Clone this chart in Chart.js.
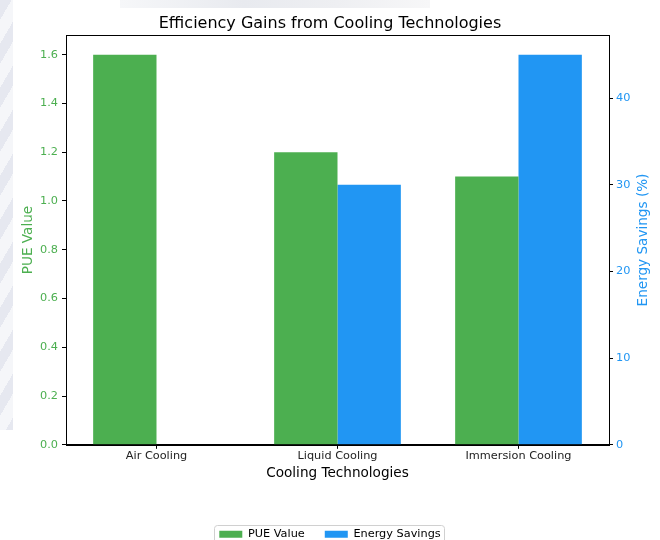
<!DOCTYPE html>
<html>
<head>
<meta charset="utf-8">
<script src="https://cdn.jsdelivr.net/npm/chart.js@4"></script>
<style>
  html, body { margin: 0; padding: 0; width: 660px; height: 540px; overflow: hidden; background: #fff; }
  .wm-left { position: absolute; left: 0; top: 0; width: 13px; height: 430px;
    background: repeating-linear-gradient(120deg, #e6e8f0 0 10px, #f5f6f9 10px 22px); }
  .wm-top { position: absolute; left: 120px; top: 0; width: 310px; height: 8px;
    background: linear-gradient(90deg, #f6f7f9, #e8eaef 40%, #eeeff2 70%, #f7f7f8); }
  #chart { position: absolute; left: 0; top: 0; }
</style>
</head>
<body>
<div class="wm-left"></div>
<div class="wm-top"></div>
<canvas id="chart" width="660" height="550"></canvas>
<script>
// chart values
const technologies = ['Air Cooling', 'Liquid Cooling', 'Immersion Cooling'];
const pueValues = [1.6, 1.2, 1.1];
const energySavings = [0, 30, 45];
const pueTicks = [0, 0.2, 0.4, 0.6, 0.8, 1.0, 1.2, 1.4, 1.6];
const savingsTicks = [0, 10, 20, 30, 40];

const GREEN = '#4CAF50';
const BLUE = '#2196F3';
const FONT = 'DejaVu Sans';

// box around the plot area plus both y axis titles (matplotlib style)
const frame = {
    id: 'frame',
    afterDatasetsDraw(chart) {
        const { ctx, chartArea: a } = chart;
        ctx.save();
        ctx.strokeStyle = '#000';
        ctx.lineWidth = 1;
        ctx.strokeRect(Math.round(a.left) + 0.5, Math.round(a.top) + 0.5,
            Math.round(a.right - a.left), Math.round(a.bottom - a.top));

        const midY = (a.top + a.bottom) / 2;
        ctx.font = '13.6px "DejaVu Sans"';
        ctx.textAlign = 'center';
        ctx.textBaseline = 'middle';
        ctx.fillStyle = GREEN;
        ctx.translate(28, midY);
        ctx.rotate(-Math.PI / 2);
        ctx.fillText('PUE Value', 0, 0);
        ctx.setTransform(1, 0, 0, 1, 0, 0);
        ctx.fillStyle = BLUE;
        ctx.translate(643, midY);
        ctx.rotate(-Math.PI / 2);
        ctx.fillText('Energy Savings (%)', 0, 0);
        ctx.restore();
    }
};

// legend frame
const legendBox = {
    id: 'legendBox',
    afterDraw(chart) {
        const boxes = chart.legend.legendHitBoxes;
        if (!boxes || !boxes.length) return;
        const ctx = chart.ctx;
        const left = Math.min(...boxes.map(b => b.left)) - 5;
        const right = Math.max(...boxes.map(b => b.left + b.width)) + 4;
        const mid = boxes[0].top + boxes[0].height / 2;
        ctx.save();
        ctx.strokeStyle = '#d0d0d0';
        ctx.lineWidth = 1;
        ctx.beginPath();
        ctx.roundRect(Math.round(left) + 0.5, Math.round(mid - 9) + 0.5, Math.round(right - left), 24, 3);
        ctx.stroke();
        ctx.restore();
    }
};

new Chart(document.getElementById('chart').getContext('2d'), {
    type: 'bar',
    data: {
        labels: technologies,
        datasets: [
            {
                label: 'PUE Value',
                data: pueValues,
                backgroundColor: GREEN,
                yAxisID: 'y'
            },
            {
                label: 'Energy Savings',
                data: energySavings,
                backgroundColor: BLUE,
                yAxisID: 'y1'
            }
        ]
    },
    plugins: [frame, legendBox],
    options: {
        responsive: false,
        animation: false,
        categoryPercentage: 0.7,
        barPercentage: 1.0,
        layout: { padding: 0 },
        scales: {
            x: {
                grid: { drawOnChartArea: false, offset: false, tickLength: 4, tickColor: '#000' },
                border: { color: '#000' },
                ticks: { color: '#222', font: { family: FONT, size: 11.3 }, padding: 0 },
                title: {
                    display: true, text: 'Cooling Technologies', color: '#000',
                    font: { family: FONT, size: 13.6 }, padding: { top: 3, bottom: 27 }
                }
            },
            y: {
                position: 'left',
                min: 0,
                max: 1.68,
                grid: { drawOnChartArea: false, tickLength: 4, tickColor: '#000' },
                border: { color: '#000' },
                afterBuildTicks: s => { s.ticks = pueTicks.map(v => ({ value: v })); },
                afterFit: s => { s.width = 66; },
                ticks: {
                    color: GREEN, font: { family: FONT, size: 11.3 }, padding: 4,
                    callback: v => Number(v).toFixed(1)
                }
            },
            y1: {
                position: 'right',
                min: 0,
                max: 47.25,
                grid: { drawOnChartArea: false, tickLength: 4, tickColor: '#000' },
                border: { color: '#000' },
                afterBuildTicks: s => { s.ticks = savingsTicks.map(v => ({ value: v })); },
                afterFit: s => { s.width = 51; },
                ticks: { color: BLUE, font: { family: FONT, size: 11.3 }, padding: 3 }
            }
        },
        plugins: {
            title: {
                display: true,
                text: 'Efficiency Gains from Cooling Technologies',
                color: '#000',
                font: { family: FONT, size: 16, weight: 'normal' },
                padding: { top: 14, bottom: 2 }
            },
            legend: {
                position: 'bottom',
                labels: {
                    color: '#000',
                    font: { family: FONT, size: 11.3 },
                    boxWidth: 23,
                    boxHeight: 7,
                    padding: 20
                }
            },
            tooltip: { enabled: false }
        }
    }
});
</script>
</body>
</html>
